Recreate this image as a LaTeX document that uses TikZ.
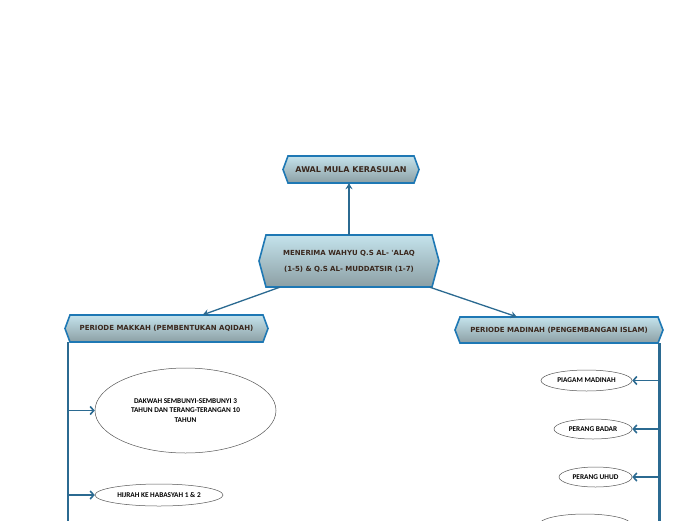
\documentclass[tikz,border=0pt]{standalone}
\usepackage{fontspec}
\usetikzlibrary{arrows.meta,calc,shapes.geometric}
\newfontfamily\hexfont{DejaVu Sans}
\newfontfamily\ellfont{Carlito}[BoldFont={Carlito Bold}]
\definecolor{hexborder}{HTML}{1E78B4}
\definecolor{hextop}{HTML}{C4E3EC}
\definecolor{hexbot}{HTML}{8C9FA4}
\definecolor{hextxt}{HTML}{3A281E}
\definecolor{conn}{HTML}{2B6A91}
\definecolor{ellborder}{HTML}{555555}
\tikzset{
  hexshape/.style={draw=hexborder, line width=1.6pt, line join=miter, top color=hextop, bottom color=hexbot},
  hextext/.style={rectangle, inner sep=0pt, align=center, text=hextxt, font=\hexfont\bfseries\fontsize{7}{16}\selectfont},
  link/.style={draw=conn, line width=1.3pt, -{Stealth[length=6pt,width=7pt]}},
  trunk/.style={draw=conn, line width=2.6pt},
  branch/.style={draw=conn, line width=1.6pt, -{Straight Barb[length=3.5pt,width=8pt,line width=1.6pt]}},
  oval/.style={ellipse, draw=ellborder, line width=0.5pt, fill=white, inner sep=0pt, align=center, text=black, font=\ellfont\bfseries\fontsize{7.3}{9.5}\selectfont},
}
\newcommand\hexnode[8]{% name, x1, y1, x2, y2, d, font size, text
  \path[hexshape] (#2,{(#3+#5)/2}) -- (#2+#6,#3) -- (#4-#6,#3) -- (#4,{(#3+#5)/2}) -- (#4-#6,#5) -- (#2+#6,#5) -- cycle;
  \node[hextext, minimum width={(#4-#2)*1pt}, minimum height={(#5-#3)*1pt}, font=\hexfont\bfseries\fontsize{#7}{16}\selectfont] (#1) at ({(#2+#4)/2},{(#3+#5)/2}) {#8};
}
\begin{document}
\begin{tikzpicture}[x=1pt,y=-1pt]
\clip (0,0) rectangle (696,520);
\fill[white] (0,0) rectangle (696,520);
% hexagon nodes
\hexnode{top}{283}{156}{419}{183}{5}{8}{AWAL MULA KERASULAN}
\hexnode{mid}{259}{235}{439}{287}{7}{7}{MENERIMA WAHYU Q.S AL- 'ALAQ\\(1-5) \& Q.S AL- MUDDATSIR (1-7)}
\hexnode{lm}{65}{315}{268}{342}{5}{7}{PERIODE MAKKAH (PEMBENTUKAN AQIDAH)}
\hexnode{rm}{455}{317}{663}{343}{5}{7}{PERIODE MADINAH (PENGEMBANGAN ISLAM)}
% links between hexagons
\draw[link] (mid.north) -- (mid.north |- top.south);
\draw[link] ([xshift=21pt]mid.south west) -- ([xshift=138pt]lm.north west);
\draw[link] ([xshift=171pt]mid.south west) -- ([xshift=62pt]rm.north west);
% ellipses
\node[oval, minimum width=181pt, minimum height=85pt] (dak) at (185.5,410.5) {DAKWAH SEMBUNYI-SEMBUNYI 3\\TAHUN DAN TERANG-TERANGAN 10\\TAHUN};
\node[oval, minimum width=128pt, minimum height=22pt] (hij) at (159,495) {HIJRAH KE HABASYAH 1 \& 2};
\node[oval, minimum width=91pt, minimum height=21pt] (pia) at (586.5,380.5) {PIAGAM MADINAH};
\node[oval, minimum width=78pt, minimum height=20pt] (bad) at (593,429) {PERANG BADAR};
\node[oval, minimum width=73pt, minimum height=20pt] (uhu) at (595.5,477) {PERANG UHUD};
\node[oval, minimum width=92pt, minimum height=21pt] (nxt) at (585,524.5) {};
% trunks
\coordinate (lb) at (68,522);
\coordinate (rb) at (659.5,522);
\draw[trunk] (lb |- lm.south) -- (lb);
\draw[trunk] (rb |- rm.south) -- (rb);
% branches
\draw[branch] (dak.west -| lb) -- (dak.west);
\draw[branch] (hij.west -| lb) -- (hij.west);
\draw[branch] (pia.east -| rb) -- (pia.east);
\draw[branch] (bad.east -| rb) -- (bad.east);
\draw[branch] (uhu.east -| rb) -- (uhu.east);
\end{tikzpicture}
\end{document}
